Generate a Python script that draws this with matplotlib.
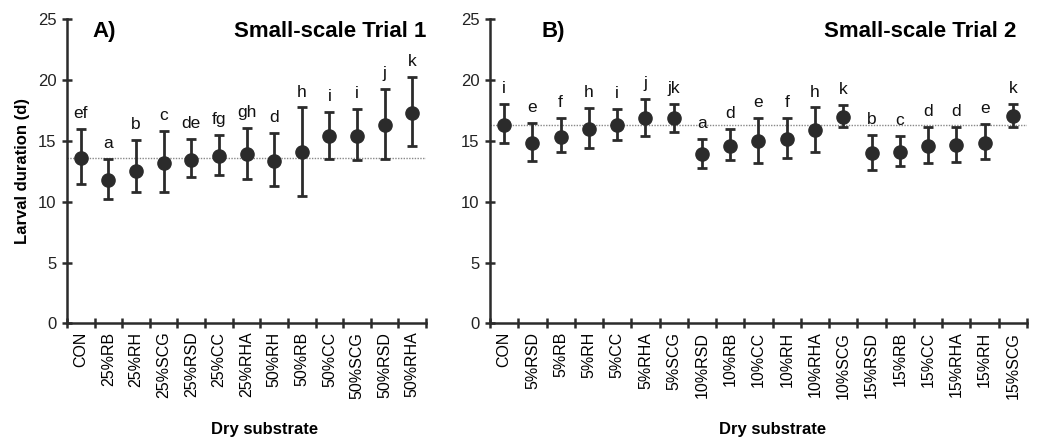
import numpy as np
import matplotlib
matplotlib.use("Agg")
import matplotlib.pyplot as plt

plt.rcParams['font.family'] = ['Liberation Sans', 'DejaVu Sans']

# Trial 1
cats1 = ['CON', '25%RB', '25%RH', '25%SCG', '25%RSD', '25%CC', '25%RHA',
         '50%RH', '50%RB', '50%CC', '50%SCG', '50%RSD', '50%RHA']
mean1 = [13.62, 11.76, 12.53, 13.16, 13.43, 13.73, 13.95, 13.38, 14.12, 15.43, 15.43, 16.28, 17.32]
upper1 = [16.0, 13.54, 15.05, 15.79, 15.16, 15.5, 16.09, 15.68, 17.76, 17.4, 17.6, 19.27, 20.23]
lower1 = [11.46, 10.2, 10.8, 10.77, 12.0, 12.2, 11.9, 11.27, 10.5, 13.5, 13.4, 13.5, 14.58]
letters1 = ['ef', 'a', 'b', 'c', 'de', 'fg', 'gh', 'd', 'h', 'i', 'i', 'j', 'k']

# Trial 2
cats2 = ['CON', '5%RSD', '5%RB', '5%RH', '5%CC', '5%RHA', '5%SCG', '10%RSD', '10%RB',
         '10%CC', '10%RH', '10%RHA', '10%SCG', '15%RSD', '15%RB', '15%CC', '15%RHA',
         '15%RH', '15%SCG']
mean2 = [16.3, 14.86, 15.35, 16.0, 16.28, 16.86, 16.86, 13.93, 14.61, 15.0, 15.16, 15.9,
         16.94, 14.04, 14.12, 14.61, 14.69, 14.86, 17.05]
upper2 = [18.08, 16.45, 16.86, 17.68, 17.6, 18.45, 18.06, 15.13, 15.98, 16.86, 16.86, 17.76,
          17.95, 15.52, 15.4, 16.17, 16.17, 16.37, 18.06]
lower2 = [14.8, 13.38, 14.06, 14.45, 15.08, 15.4, 15.76, 12.75, 13.4, 13.21, 13.62, 14.12,
          16.15, 12.61, 12.97, 13.16, 13.3, 13.49, 16.12]
letters2 = ['i', 'e', 'f', 'h', 'i', 'j', 'jk', 'a', 'd', 'e', 'f', 'h', 'k', 'b', 'c',
            'd', 'd', 'e', 'k']

panels = [('A)', 'Small-scale Trial 1', cats1, mean1, upper1, lower1, letters1),
          ('B)', 'Small-scale Trial 2', cats2, mean2, upper2, lower2, letters2)]

dark = '#2b2b2b'
fig = plt.figure(figsize=(10.52, 4.42), dpi=100)
ax1 = fig.add_axes([0.0637, 0.2685, 0.3413, 0.6875])
ax2 = fig.add_axes([0.4658, 0.2685, 0.5104, 0.6875])
# where the panel tag and title sit in each axes (fraction of width)
tag_x = [0.072, 0.095]
title_x = [1.0, 0.98]

for i, (ax, (tag, title, cats, mean, upper, lower, letters)) in enumerate(zip([ax1, ax2], panels)):
    n = len(cats)
    x = np.arange(n) + 0.5
    mean = np.array(mean)
    upper = np.array(upper)
    lower = np.array(lower)

    ax.axhline(mean[0], color='#888888', lw=1.0, ls=(0, (1, 1)), zorder=1)
    ax.errorbar(x, mean, yerr=[mean - lower, upper - mean], fmt='o', color=dark,
                ms=9.5, elinewidth=2, capsize=3.5, capthick=2, zorder=3)
    for xi, top, lab in zip(x, upper, letters):
        ax.text(xi, top + 0.9, lab, ha='center', va='baseline', fontsize=12.5, color='#111111')

    ax.set_xlim(0, n)
    ax.set_ylim(0, 25)
    ax.set_xticks(np.arange(n + 1))
    ax.set_xticklabels([])
    ax.set_xticks(x, minor=True)
    ax.set_xticklabels(cats, minor=True, rotation=90, fontsize=11.5)
    ax.set_yticks([0, 5, 10, 15, 20, 25])
    ax.tick_params(axis='both', which='major', direction='inout', length=7, width=1.8,
                   color=dark, labelsize=12, labelcolor='#222222')
    ax.tick_params(axis='x', which='minor', length=0, pad=6)
    ax.tick_params(axis='y', pad=4)

    for s in ['top', 'right']:
        ax.spines[s].set_visible(False)
    for s in ['left', 'bottom']:
        ax.spines[s].set_linewidth(1.8)
        ax.spines[s].set_color(dark)

    ax.text(tag_x[i], 0.995, tag, transform=ax.transAxes, fontsize=16, fontweight='bold',
            ha='left', va='top')
    ax.text(title_x[i], 0.995, title, transform=ax.transAxes, fontsize=16, fontweight='bold',
            ha='right', va='top')
    ax.set_xlabel('Dry substrate', fontsize=12, fontweight='bold')

ax1.xaxis.set_label_coords(0.55, -0.325)
ax2.xaxis.set_label_coords(0.527, -0.325)
ax1.set_ylabel('Larval duration (d)', fontsize=12, fontweight='bold', labelpad=6)

fig.savefig('out.png', dpi=100)
